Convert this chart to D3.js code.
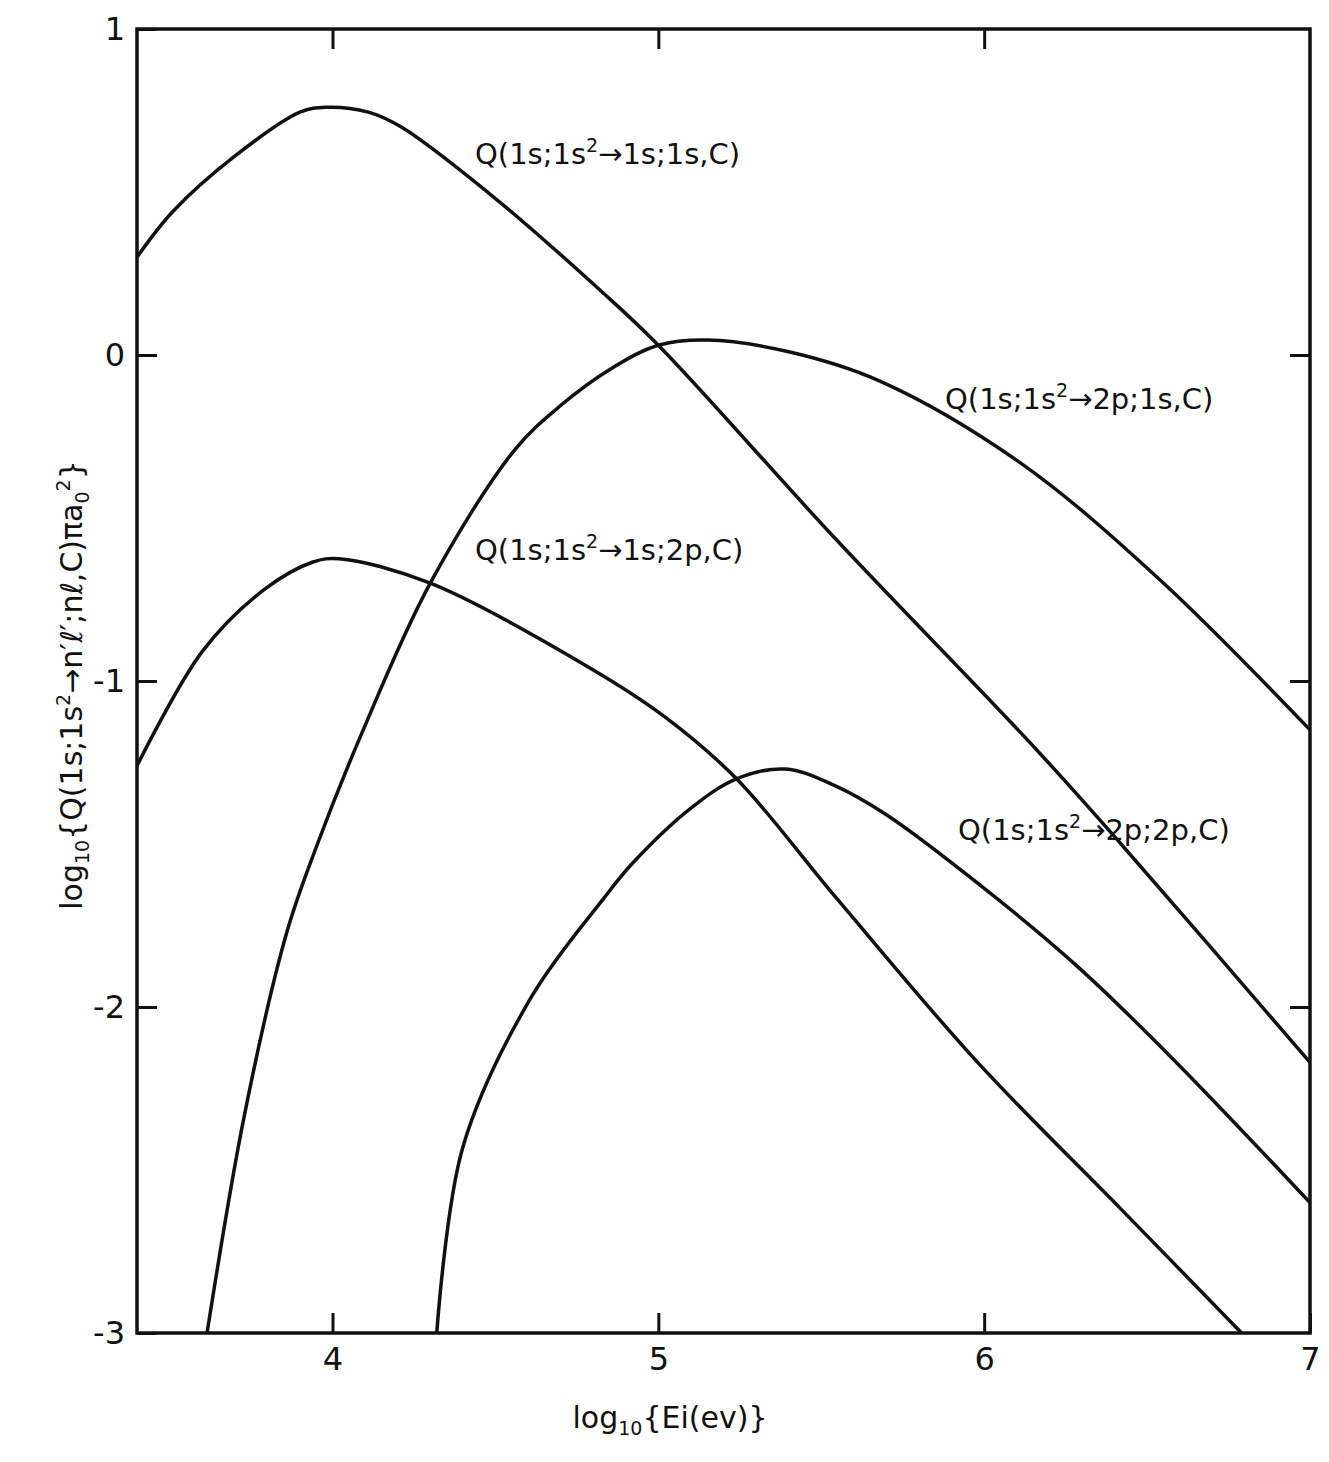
<!DOCTYPE html>
<html lang="en">
<head>
<meta charset="UTF-8">
<title>Capture cross sections</title>
<style>
  body { margin: 0; background: #fff; }
  svg { display: block; }
  text { font-family: "DejaVu Sans", sans-serif; fill: #111; }
</style>
</head>
<body>
<svg id="chart" width="1329" height="1462"></svg>
<script src="https://d3js.org/d3.v7.min.js"></script>
<script>
// log10 Ei (eV) and log10 Q/(pi a0^2)
const xA = [3.4, 3.51, 3.7, 3.9, 3.98, 4.11, 4.21, 4.5, 4.82, 5.0, 5.54, 6.16, 6.42, 7.0];
const yA = [0.30, 0.44, 0.61, 0.745, 0.76, 0.745, 0.70, 0.48, 0.20, 0.03, -0.56, -1.21, -1.50, -2.17];

const xB = [3.615, 3.73, 3.86, 3.95, 4.09, 4.30, 4.56, 4.7, 4.85, 5.0, 5.15, 5.4, 5.68, 6.11, 6.54, 7.0];
const yB = [-3.0, -2.33, -1.77, -1.51, -1.16, -0.70, -0.29, -0.155, -0.045, 0.03, 0.046, 0.01, -0.08, -0.33, -0.69, -1.15];

const xC = [3.4, 3.6, 3.79, 3.94, 4.02, 4.30, 4.79, 5.02, 5.24, 5.55, 5.98, 6.42, 6.79];
const yC = [-1.26, -0.91, -0.72, -0.635, -0.625, -0.70, -0.96, -1.11, -1.30, -1.67, -2.17, -2.62, -3.0];

const xD = [4.32, 4.40, 4.61, 4.83, 4.92, 5.1, 5.24, 5.39, 5.54, 5.70, 5.98, 6.28, 6.57, 7.0];
const yD = [-3.0, -2.43, -1.97, -1.67, -1.56, -1.39, -1.30, -1.27, -1.32, -1.41, -1.62, -1.87, -2.15, -2.60];

const xTicks = [4, 5, 6, 7];
const yTicks = [1, 0, -1, -2, -3];

const curveNames = ["1s;1s", "2p;1s", "1s;2p", "2p;2p"];

const svg = d3.select("#chart");
const x = d3.scaleLinear().domain([3.4, 7]).range([137, 1310]);
const y = d3.scaleLinear().domain([-3, 1]).range([1333, 29]);

const tick = 20;
const intFmt = d => String(d); // plain hyphen minus like the original

// inward ticks on all four sides
svg.append("g").attr("transform", `translate(0,${y(-3)})`)
  .call(d3.axisBottom(x).tickValues(xTicks).tickSizeInner(-tick).tickSizeOuter(0).tickPadding(14).tickFormat(intFmt));
svg.append("g").attr("transform", `translate(0,${y(1)})`)
  .call(d3.axisTop(x).tickValues([4, 5, 6]).tickSizeInner(-tick).tickSizeOuter(0).tickFormat(""));
svg.append("g").attr("transform", `translate(${x(3.4)},0)`)
  .call(d3.axisLeft(y).tickValues(yTicks).tickSizeInner(-tick).tickSizeOuter(0).tickPadding(12).tickFormat(intFmt));
svg.append("g").attr("transform", `translate(${x(7)},0)`)
  .call(d3.axisRight(y).tickValues([0, -1, -2]).tickSizeInner(-tick).tickSizeOuter(0).tickFormat(""));

svg.selectAll(".domain").remove();
svg.selectAll(".tick line").attr("stroke", "#111").attr("stroke-width", 3);
svg.selectAll(".tick text").attr("font-size", 32).attr("fill", "#111");

// frame
svg.append("rect")
  .attr("x", x(3.4)).attr("y", y(1))
  .attr("width", x(7) - x(3.4)).attr("height", y(-3) - y(1))
  .attr("fill", "none").attr("stroke", "#111").attr("stroke-width", 3.5);

const line = d3.line()
  .x(d => x(d[0])).y(d => y(d[1]))
  .curve(d3.curveCatmullRom.alpha(0.5));

const series = [[xA, yA], [xB, yB], [xC, yC], [xD, yD]];
series.forEach(([xs, ys], i) => {
  svg.append("path")
    .datum(xs.map((v, j) => [v, ys[j]]))
    .attr("class", "curve c" + i)
    .attr("d", line)
    .attr("fill", "none")
    .attr("stroke", "#111")
    .attr("stroke-width", 3.5);
});

// curve labels
const labels = [
  { name: curveNames[0], lx: 475, ly: 164 },
  { name: curveNames[1], lx: 945, ly: 409 },
  { name: curveNames[2], lx: 475, ly: 560 },
  { name: curveNames[3], lx: 958, ly: 840 }
];
labels.forEach(l => {
  const t = svg.append("text").attr("x", l.lx).attr("y", l.ly).attr("font-size", 29);
  t.append("tspan").text("Q(1s;1s");
  t.append("tspan").attr("dy", -12).attr("font-size", 19).text("2");
  t.append("tspan").attr("dy", 12).text("\u2192" + l.name + ",C)");
});

// axis titles
const xt = svg.append("text").attr("x", 670).attr("y", 1428).attr("text-anchor", "middle").attr("font-size", 30);
xt.append("tspan").text("log");
xt.append("tspan").attr("dy", 7).attr("font-size", 19).text("10");
xt.append("tspan").attr("dy", -7).text("{Ei(ev)}");

const yt = svg.append("text")
  .attr("transform", "translate(82,685) rotate(-90)")
  .attr("text-anchor", "middle").attr("font-size", 30);
yt.append("tspan").text("log");
yt.append("tspan").attr("dy", 7).attr("font-size", 19).text("10");
yt.append("tspan").attr("dy", -7).text("{Q(1s;1s");
yt.append("tspan").attr("dy", -12).attr("font-size", 19).text("2");
yt.append("tspan").attr("dy", 12).text("\u2192n\u2032\u2113\u2032;n\u2113,C)\u03c0a");
yt.append("tspan").attr("dy", 7).attr("font-size", 19).text("0");
yt.append("tspan").attr("dy", -19).attr("font-size", 19).text("2");
yt.append("tspan").attr("dy", 12).text("}");
</script>
</body>
</html>
